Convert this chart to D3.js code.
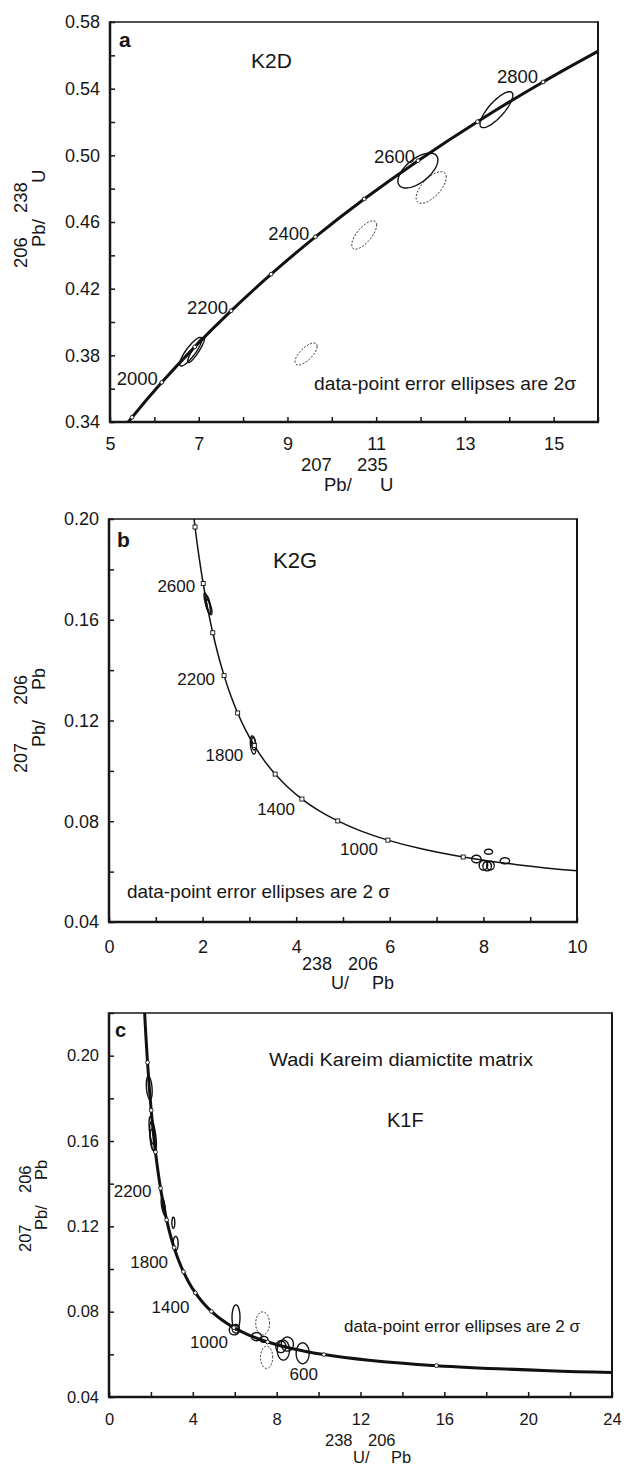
<!DOCTYPE html>
<html>
<head>
<meta charset="utf-8">
<script src="https://cdnjs.cloudflare.com/ajax/libs/d3/7.8.5/d3.min.js"></script>
<style>
body{margin:0;background:#fff}
svg{display:block}
text{font-family:"Liberation Sans",Arial,Helvetica,sans-serif;fill:#161616}
</style>
</head>
<body>
<div id="plot"></div>
<script>
// panel a: Wetherill concordia
var concAgeA = [1800,1900,2000,2100,2200,2300,2400,2500,2600,2700,2800,2900];
var concXA = [4.8869,5.4962,6.1685,6.9105,7.7291,8.6326,9.6296,10.7297,11.9437,13.2834,14.7616,16.3929];
var concYA = [0.3221,0.3428,0.3638,0.3851,0.4067,0.4287,0.4511,0.4738,0.4968,0.5202,0.5440,0.5681];
var markAgeA = [1900,2000,2100,2200,2300,2400,2500,2600,2700,2800];
var labelAgeA = [2000,2200,2400,2600,2800];

// panels b and c: Tera-Wasserburg concordia
var twAge = [260,300,400,500,600,700,800,900,1000,1100,1200,1300,1400,1500,1600,1700,1800,1900,2000,2100,2200,2300,2400,2500,2600,2700,2800,2900,3000];
var twX = [24.297,20.992,15.621,12.399,10.252,8.718,7.568,6.674,5.959,5.375,4.888,4.476,4.123,3.817,3.550,3.314,3.105,2.917,2.749,2.597,2.459,2.333,2.217,2.111,2.013,1.922,1.838,1.760,1.687];
var twY = [0.05143,0.05233,0.05470,0.05722,0.05990,0.06276,0.06580,0.06904,0.07250,0.07619,0.08012,0.08432,0.08881,0.09360,0.09872,0.10419,0.11004,0.11629,0.12299,0.13015,0.13782,0.14603,0.15483,0.16426,0.17437,0.18520,0.19682,0.20928,0.22266];
var markAgeB = [800,1000,1200,1400,1600,1800,2000,2200,2400,2600,2800];
var labelAgeB = [2600,2200,1800,1400,1000];
var markAgeC = [400,600,800,1000,1200,1400,1600,1800,2000,2200,2400,2600,2800];
var labelAgeC = [2200,1800,1400,1000,600];

// error ellipses (2 sigma): centre, half-widths, error correlation, concordant or not
var ellA = [
  {x:6.82,y:0.3822,sx:0.25,sy:0.0086,r:0.86,ok:1},
  {x:6.94,y:0.3832,sx:0.19,sy:0.0076,r:0.9,ok:1},
  {x:9.42,y:0.3808,sx:0.25,sy:0.0066,r:0.7,ok:0},
  {x:10.73,y:0.4522,sx:0.28,sy:0.0085,r:0.7,ok:0},
  {x:11.94,y:0.4909,sx:0.45,sy:0.0105,r:0.6,ok:1},
  {x:12.24,y:0.4807,sx:0.34,sy:0.0095,r:0.65,ok:0},
  {x:13.71,y:0.5274,sx:0.37,sy:0.0108,r:0.8,ok:1}
];
var ellB = [
  {x:2.10,y:0.1665,sx:0.07,sy:0.0042,r:-0.8,ok:1},
  {x:2.14,y:0.1650,sx:0.06,sy:0.0030,r:-0.7,ok:1},
  {x:2.12,y:0.1660,sx:0.05,sy:0.0035,r:-0.6,ok:1},
  {x:3.08,y:0.1103,sx:0.06,sy:0.0036,r:-0.3,ok:1},
  {x:3.09,y:0.1108,sx:0.045,sy:0.0025,r:-0.3,ok:1},
  {x:7.85,y:0.0650,sx:0.10,sy:0.0015,r:0,ok:1},
  {x:8.11,y:0.0679,sx:0.085,sy:0.0010,r:0,ok:1},
  {x:8.00,y:0.0625,sx:0.09,sy:0.0019,r:0,ok:1},
  {x:8.08,y:0.0622,sx:0.09,sy:0.0019,r:0,ok:1},
  {x:8.15,y:0.0624,sx:0.08,sy:0.0017,r:0,ok:1},
  {x:8.46,y:0.0643,sx:0.10,sy:0.0012,r:0,ok:1}
];
var ellC = [
  {x:1.92,y:0.1849,sx:0.14,sy:0.0054,r:-0.3,ok:1},
  {x:2.05,y:0.1650,sx:0.14,sy:0.0065,r:-0.5,ok:1},
  {x:2.10,y:0.1620,sx:0.16,sy:0.0070,r:-0.5,ok:1},
  {x:2.08,y:0.1605,sx:0.12,sy:0.0050,r:-0.4,ok:1},
  {x:2.58,y:0.1300,sx:0.09,sy:0.0035,r:-0.5,ok:1},
  {x:2.63,y:0.1280,sx:0.07,sy:0.0030,r:-0.5,ok:1},
  {x:3.07,y:0.1217,sx:0.07,sy:0.0026,r:0,ok:1},
  {x:3.18,y:0.1120,sx:0.12,sy:0.0033,r:0,ok:1},
  {x:6.06,y:0.0773,sx:0.19,sy:0.0059,r:0,ok:1},
  {x:5.98,y:0.0714,sx:0.24,sy:0.0023,r:0,ok:1},
  {x:6.05,y:0.0720,sx:0.17,sy:0.0020,r:0,ok:1},
  {x:7.33,y:0.0745,sx:0.33,sy:0.0054,r:0,ok:0},
  {x:7.52,y:0.0586,sx:0.29,sy:0.0052,r:0,ok:0},
  {x:7.04,y:0.0683,sx:0.24,sy:0.0019,r:0,ok:1},
  {x:7.39,y:0.0670,sx:0.19,sy:0.0014,r:0,ok:1},
  {x:8.20,y:0.0636,sx:0.24,sy:0.0028,r:0,ok:1},
  {x:8.32,y:0.0620,sx:0.29,sy:0.0047,r:0,ok:1},
  {x:8.51,y:0.0648,sx:0.29,sy:0.0033,r:0,ok:1},
  {x:9.24,y:0.0605,sx:0.31,sy:0.0049,r:0,ok:1}
];

// axis ticks
var xTicksA = [5,6,7,8,9,10,11,12,13,14,15,16], xLabA = [5,7,9,11,13,15];
var yTicksA = [0.34,0.36,0.38,0.40,0.42,0.44,0.46,0.48,0.50,0.52,0.54,0.56,0.58], yLabA = [0.34,0.38,0.42,0.46,0.50,0.54,0.58];
var xTicksB = [0,1,2,3,4,5,6,7,8,9,10], xLabB = [0,2,4,6,8,10];
var yTicksB = [0.04,0.06,0.08,0.10,0.12,0.14,0.16,0.18,0.20], yLabB = [0.04,0.08,0.12,0.16,0.20];
var xTicksC = [0,2,4,6,8,10,12,14,16,18,20,22,24], xLabC = [0,4,8,12,16,20,24];
var yTicksC = [0.04,0.06,0.08,0.10,0.12,0.14,0.16,0.18,0.20,0.22], yLabC = [0.04,0.08,0.12,0.16,0.20];

var svg = d3.select('#plot').append('svg').attr('width',626).attr('height',1468);

function zipCurve(ages, xs, ys){
  return ages.map(function(a,i){ return {age:a, x:xs[i], y:ys[i]}; });
}

function ellipsePts(e){
  var pts = [], k = Math.sqrt(1 - e.r*e.r);
  for (var i = 0; i < 90; i++) {
    var t = i/90*2*Math.PI, c = Math.cos(t), s = Math.sin(t);
    pts.push([e.x + e.sx*c, e.y + e.sy*(e.r*c + k*s)]);
  }
  return pts;
}

function piece(g, p, x, y, size, rot){
  var t = g.append('text').text(p).style('font-size', size+'px');
  if (rot) t.attr('transform','translate('+x+','+y+') rotate(-90)');
  else t.attr('x',x).attr('y',y);
  return t;
}

function drawPanel(c){
  var g = svg.append('g');
  var x = d3.scaleLinear().domain(c.xDom).range([c.l, c.r]);
  var y = d3.scaleLinear().domain(c.yDom).range([c.b, c.t]);
  var fmtY = d3.format('.2f');

  g.append('clipPath').attr('id','clip'+c.id).append('rect')
    .attr('x',c.l).attr('y',c.t).attr('width',c.r-c.l).attr('height',c.b-c.t);

  // axes, ticks pointing inwards
  var xa = g.append('g').attr('transform','translate(0,'+c.b+')')
    .call(d3.axisBottom(x).tickValues(c.xTicks).tickSizeInner(-5).tickSizeOuter(0).tickPadding(c.xPad)
      .tickFormat(function(d){ return c.xLab.indexOf(d) >= 0 ? d : ''; }));
  var ya = g.append('g').attr('transform','translate('+c.l+',0)')
    .call(d3.axisLeft(y).tickValues(c.yTicks).tickSizeInner(-5).tickSizeOuter(0).tickPadding(10)
      .tickFormat(function(d){ return c.yLab.some(function(v){ return Math.abs(v-d) < 1e-9; }) ? fmtY(d) : ''; }));
  [xa, ya].forEach(function(a){
    a.select('.domain').remove();
    a.selectAll('line').attr('stroke','#161616').attr('stroke-width',1.5);
    a.selectAll('text').attr('font-family',null).style('font-size',c.tickFont+'px').attr('fill','#161616');
  });

  // frame
  g.append('line').attr('x1',c.l).attr('x2',c.r).attr('y1',c.t).attr('y2',c.t).attr('stroke','#161616').attr('stroke-width',1.5);
  g.append('line').attr('x1',c.r).attr('x2',c.r).attr('y1',c.t-0.7).attr('y2',c.b).attr('stroke','#161616').attr('stroke-width',2);
  g.append('line').attr('x1',c.l-1).attr('x2',c.r+1).attr('y1',c.b).attr('y2',c.b).attr('stroke','#161616').attr('stroke-width',2.5);
  g.append('line').attr('x1',c.l).attr('x2',c.l).attr('y1',c.t-0.7).attr('y2',c.b).attr('stroke','#161616').attr('stroke-width',2.5);

  var inner = g.append('g').attr('clip-path','url(#clip'+c.id+')');

  // concordia
  inner.append('path').datum(c.curve)
    .attr('d', d3.line().x(function(d){ return x(d.x); }).y(function(d){ return y(d.y); }).curve(d3.curveCatmullRom))
    .attr('fill','none').attr('stroke','#111').attr('stroke-width',c.curveW);

  // ellipses
  var el = d3.line().x(function(d){ return x(d[0]); }).y(function(d){ return y(d[1]); }).curve(d3.curveLinearClosed);
  inner.selectAll('path.ell').data(c.ell).enter().append('path').attr('class','ell')
    .attr('d', function(e){ return el(ellipsePts(e)); })
    .attr('fill','none').attr('stroke','#111')
    .attr('stroke-width', function(e){ return e.ok ? 1.4 : 0.9; })
    .attr('stroke-dasharray', function(e){ return e.ok ? null : '2,1.6'; });

  // age markers
  var marks = c.curve.filter(function(d){ return c.markAge.indexOf(d.age) >= 0; });
  if (c.square) {
    inner.selectAll('rect.mk').data(marks).enter().append('rect').attr('class','mk')
      .attr('x',function(d){ return x(d.x)-2; }).attr('y',function(d){ return y(d.y)-2; })
      .attr('width',4).attr('height',4).attr('fill','#fff').attr('stroke','#111').attr('stroke-width',0.9);
  } else {
    inner.selectAll('circle.mk').data(marks).enter().append('circle').attr('class','mk')
      .attr('cx',function(d){ return x(d.x); }).attr('cy',function(d){ return y(d.y); })
      .attr('r',1.9).attr('fill','#fff').attr('stroke','#111').attr('stroke-width',0.9);
  }

  // age labels
  var labs = c.curve.filter(function(d){ return c.labelAge.indexOf(d.age) >= 0; });
  g.selectAll('text.age').data(labs).enter().append('text').attr('class','age')
    .attr('x',function(d){ return x(d.x) + c.labOff[d.age][0]; })
    .attr('y',function(d){ return y(d.y) + c.labOff[d.age][1]; })
    .attr('text-anchor','end').style('font-size',c.labFont+'px')
    .text(function(d){ return d.age; });

  // panel letter, sample names, notes
  g.append('text').attr('x',c.letter[1]).attr('y',c.letter[2]).style('font-size',c.letter[3]+'px')
    .style('font-weight','bold').text(c.letter[0]);
  c.notes.forEach(function(n){
    var t = g.append('text').attr('x',n[1]).attr('y',n[2]).style('font-size',n[3]+'px').text(n[0]);
    if (n[4]) t.attr('textLength',n[4]).attr('lengthAdjust','spacingAndGlyphs');
  });

  // axis titles with raised mass numbers
  c.xTitle.forEach(function(p){
    piece(g, p[0], p[1], p[2] ? c.xTitleY[0] : c.xTitleY[1], c.titleFont, false);
  });
  c.yTitle.forEach(function(p){
    piece(g, p[0], p[2] ? c.yTitleX[0] : c.yTitleX[1], p[1], c.titleFont, true);
  });
}

drawPanel({
  id:'a', l:110, r:598, t:22, b:422, xDom:[5,16], yDom:[0.34,0.58],
  xTicks:xTicksA, xLab:xLabA, yTicks:yTicksA, yLab:yLabA, xPad:15, tickFont:18,
  curve:zipCurve(concAgeA, concXA, concYA), curveW:3, markAge:markAgeA, square:false,
  labelAge:labelAgeA, labFont:18.5,
  labOff:{2000:[-4,3],2200:[-3,3],2400:[-6,3],2600:[-3,2],2800:[-5,1]},
  ell:ellA,
  letter:['a',119,47,21],
  notes:[['K2D',251,68,21],['data-point error ellipses are 2σ',314,390,18.5,262]],
  titleFont:18.5,
  xTitle:[['207',301,1],['Pb/',324,0],['235',357,1],['U',380,0]], xTitleY:[471,491],
  yTitle:[['206',268,1],['Pb/',247,0],['238',213,1],['U',183,0]], yTitleX:[27,45]
});

drawPanel({
  id:'b', l:109, r:577, t:519, b:922, xDom:[0,10], yDom:[0.04,0.20],
  xTicks:xTicksB, xLab:xLabB, yTicks:yTicksB, yLab:yLabB, xPad:18, tickFont:18,
  curve:zipCurve(twAge, twX, twY), curveW:1.5, markAge:markAgeB, square:true,
  labelAge:labelAgeB, labFont:17,
  labOff:{2600:[-8,8],2200:[-9,9],1800:[-11,15],1400:[-7,16],1000:[-10,15]},
  ell:ellB,
  letter:['b',117,547,21],
  notes:[['K2G',273,568,22],['data-point error ellipses are 2 σ',127,898,18.5,263]],
  titleFont:18,
  xTitle:[['238',302,1],['U/',331,0],['206',348,1],['Pb',372,0]], xTitleY:[970,989],
  yTitle:[['207',773,1],['Pb/',747,0],['206',705,1],['Pb',690,0]], yTitleX:[27,45]
});

drawPanel({
  id:'c', l:109, r:612, t:1013, b:1397, xDom:[0,24], yDom:[0.04,0.22],
  xTicks:xTicksC, xLab:xLabC, yTicks:yTicksC, yLab:yLabC, xPad:16, tickFont:16.5,
  curve:zipCurve(twAge, twX, twY), curveW:3, markAge:markAgeC, square:false,
  labelAge:labelAgeC, labFont:17,
  labOff:{2200:[-9,9],1800:[-6,20],1400:[-6,20],1000:[-6,20],600:[-6,25]},
  ell:ellC,
  letter:['c',115,1037,20],
  notes:[['Wadi Kareim diamictite matrix',269,1066,18,264],['K1F',387,1127,20],['data-point error ellipses are 2 σ',344,1332,17,236]],
  titleFont:16.5,
  xTitle:[['238',325,1],['U/',353,0],['206',368,1],['Pb',391,0]], xTitleY:[1446,1463],
  yTitle:[['207',1252,1],['Pb/',1230,0],['206',1193,1],['Pb',1180,0]], yTitleX:[31,47]
});
</script>
</body>
</html>
